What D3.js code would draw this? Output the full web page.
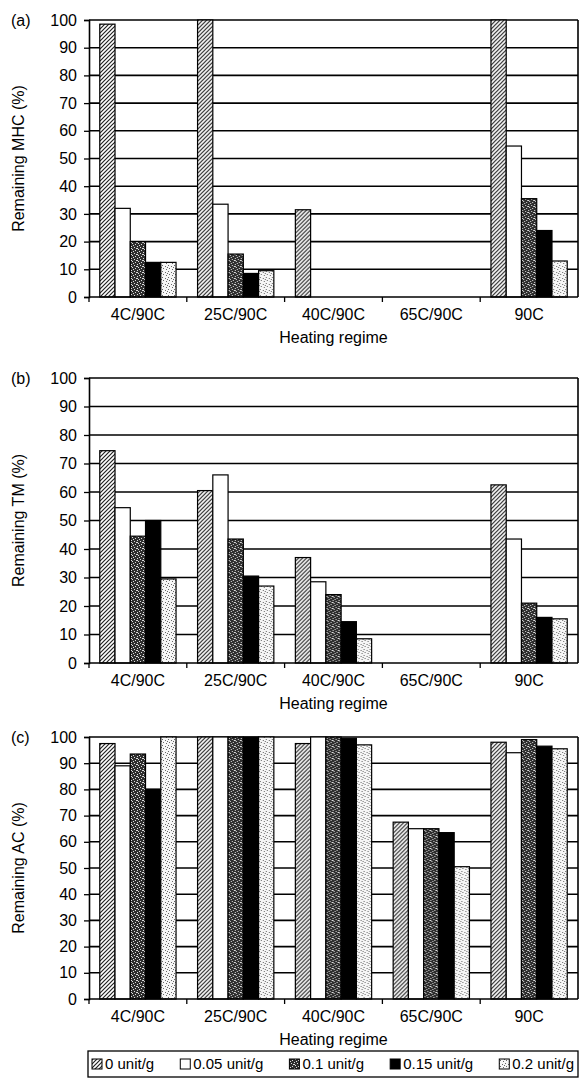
<!DOCTYPE html>
<html lang="en">
<head>
<meta charset="UTF-8">
<title>Remaining MHC, TM and AC</title>
<style>
  body { margin: 0; background: #fff; }
  svg { display: block; font-family: "Liberation Sans", Arial, sans-serif; }
</style>
</head>
<body>
<svg id="chart"></svg>
<script src="https://cdn.jsdelivr.net/npm/d3@7"></script>
<script>
const categories = ['4C/90C', '25C/90C', '40C/90C', '65C/90C', '90C'];
const doses = ['0 unit/g', '0.05 unit/g', '0.1 unit/g', '0.15 unit/g', '0.2 unit/g'];
const yTicks = [0, 10, 20, 30, 40, 50, 60, 70, 80, 90, 100];

// one row per heating regime, one value per enzyme dose
const mhcValues = [
  [98.5, 32, 20, 12.5, 12.5],
  [100, 33.5, 15.5, 8.5, 9.5],
  [31.5, 0, 0, 0, 0],
  [0, 0, 0, 0, 0],
  [100, 54.5, 35.5, 24, 13]
];
const tmValues = [
  [74.5, 54.5, 44.5, 50, 29.5],
  [60.5, 66, 43.5, 30.5, 27],
  [37, 28.5, 24, 14.5, 8.5],
  [0, 0, 0, 0, 0],
  [62.5, 43.5, 21, 16, 15.5]
];
const acValues = [
  [97.5, 89, 93.5, 80, 100],
  [100, 100, 100, 100, 100],
  [97.5, 100, 100, 99.5, 97],
  [67.5, 65, 65, 63.5, 50.5],
  [98, 94, 99, 96.5, 95.5]
];

const W = 581, H = 1090;
const left = 89, right = 578;
const svg = d3.select('#chart').attr('width', W).attr('height', H);

// fill patterns
const defs = svg.append('defs');
const hatch = defs.append('pattern').attr('id', 'hatch')
  .attr('patternUnits', 'userSpaceOnUse').attr('width', 4).attr('height', 4);
hatch.append('rect').attr('width', 4).attr('height', 4).attr('fill', '#fff');
hatch.append('path').attr('d', 'M-1,1 l2,-2 M0,4 l4,-4 M3,5 l2,-2')
  .attr('stroke', '#222').attr('stroke-width', 1.2);

const dark = defs.append('pattern').attr('id', 'darkdots')
  .attr('patternUnits', 'userSpaceOnUse').attr('width', 6).attr('height', 6);
dark.append('rect').attr('width', 6).attr('height', 6).attr('fill', '#2e2e2e');
[[0, 0], [3, 1], [1, 3], [4, 4], [2, 5], [5, 2], [0, 2]].forEach(p => {
  dark.append('rect').attr('x', p[0]).attr('y', p[1]).attr('width', 1).attr('height', 1).attr('fill', '#ddd');
});

const light = defs.append('pattern').attr('id', 'lightdots')
  .attr('patternUnits', 'userSpaceOnUse').attr('width', 6).attr('height', 6);
light.append('rect').attr('width', 6).attr('height', 6).attr('fill', '#f6f6f6');
[[1, 1], [4, 2], [2, 4], [5, 5], [0, 3]].forEach(p => {
  light.append('rect').attr('x', p[0]).attr('y', p[1]).attr('width', 1).attr('height', 1).attr('fill', '#666');
});

const fills = ['url(#hatch)', '#fff', 'url(#darkdots)', '#000', 'url(#lightdots)'];

const x0 = d3.scaleBand().domain(categories).range([left, right]).padding(0);
const x1 = d3.scaleBand().domain(doses)
  .range([x0.bandwidth() * 0.11, x0.bandwidth() * 0.89]).padding(0);

const panels = [
  { tag: '(a)', title: 'Remaining MHC (%)', values: mhcValues, top: 20, bottom: 297 },
  { tag: '(b)', title: 'Remaining TM (%)', values: tmValues, top: 378, bottom: 663 },
  { tag: '(c)', title: 'Remaining AC (%)', values: acValues, top: 737, bottom: 999 }
];

panels.forEach(p => {
  const y = d3.scaleLinear().domain([0, 100]).range([p.bottom, p.top]);
  const g = svg.append('g');

  // grid lines and frame
  g.selectAll('line.grid').data(yTicks.slice(1)).enter().append('line')
    .attr('x1', left).attr('x2', right)
    .attr('y1', d => y(d)).attr('y2', d => y(d))
    .attr('stroke', '#000').attr('stroke-width', 1.6);
  g.append('line').attr('x1', right).attr('x2', right)
    .attr('y1', p.top).attr('y2', p.bottom)
    .attr('stroke', '#000').attr('stroke-width', 1.6);

  // bars
  const groups = g.selectAll('g.cat').data(p.values).enter().append('g')
    .attr('transform', (d, i) => `translate(${x0(categories[i])},0)`);
  groups.selectAll('rect')
    .data(d => d.map((v, j) => ({ v, j })).filter(e => e.v > 0))
    .enter().append('rect')
    .attr('x', e => x1(doses[e.j]))
    .attr('width', x1.bandwidth())
    .attr('y', e => y(e.v))
    .attr('height', e => y(0) - y(e.v))
    .attr('fill', e => fills[e.j])
    .attr('stroke', '#000').attr('stroke-width', 1.2);

  // y axis
  const yAxis = g.append('g').attr('transform', `translate(${left},0)`)
    .call(d3.axisLeft(y).tickValues(yTicks).tickSize(5).tickPadding(7));
  yAxis.select('.domain').attr('stroke-width', 1.6);
  yAxis.selectAll('line').attr('stroke-width', 1.3);
  yAxis.selectAll('text').attr('font-size', 16).attr('fill', '#000')
    .attr('font-family', '"Liberation Sans", Arial, sans-serif');

  // x axis: ticks between categories
  g.append('line').attr('x1', left).attr('x2', right)
    .attr('y1', p.bottom).attr('y2', p.bottom)
    .attr('stroke', '#000').attr('stroke-width', 1.6);
  g.selectAll('line.xt').data(categories).enter().append('line')
    .attr('x1', d => x0(d)).attr('x2', d => x0(d))
    .attr('y1', p.bottom).attr('y2', p.bottom + 5)
    .attr('stroke', '#000').attr('stroke-width', 1.3);
  g.selectAll('text.cat').data(categories).enter().append('text')
    .attr('x', d => x0(d) + x0.bandwidth() / 2)
    .attr('y', p.bottom + 23)
    .attr('text-anchor', 'middle').attr('font-size', 16)
    .text(d => d);

  g.append('text').attr('x', (left + right) / 2).attr('y', p.bottom + 46)
    .attr('text-anchor', 'middle').attr('font-size', 16)
    .text('Heating regime');

  g.append('text')
    .attr('transform', `translate(24,${(p.top + p.bottom) / 2}) rotate(-90)`)
    .attr('text-anchor', 'middle').attr('font-size', 16)
    .text(p.title);

  g.append('text').attr('x', 11).attr('y', p.top + 6)
    .attr('font-size', 16).text(p.tag);
});

// legend
const lg = svg.append('g');
const boxX = 88, boxY = 1051, boxW = 490, boxH = 26;
lg.append('rect').attr('x', boxX).attr('y', boxY).attr('width', boxW).attr('height', boxH)
  .attr('fill', '#fff').attr('stroke', '#000').attr('stroke-width', 1.3);
const items = lg.selectAll('g.item').data(doses).enter().append('g');
items.append('rect').attr('width', 10).attr('height', 10).attr('y', boxY + 8)
  .attr('fill', (d, i) => fills[i]).attr('stroke', '#000').attr('stroke-width', 1);
items.append('text').attr('y', boxY + 18).attr('font-size', 15).text(d => d);
const widths = [];
items.each(function () { widths.push(d3.select(this).select('text').node().getComputedTextLength() + 13); });
const spare = (boxW - 8 - d3.sum(widths)) / (doses.length - 1);
let cx = boxX + 4;
items.each(function (d, i) {
  const it = d3.select(this);
  it.select('rect').attr('x', cx);
  it.select('text').attr('x', cx + 13);
  cx += widths[i] + spare;
});
</script>
</body>
</html>
